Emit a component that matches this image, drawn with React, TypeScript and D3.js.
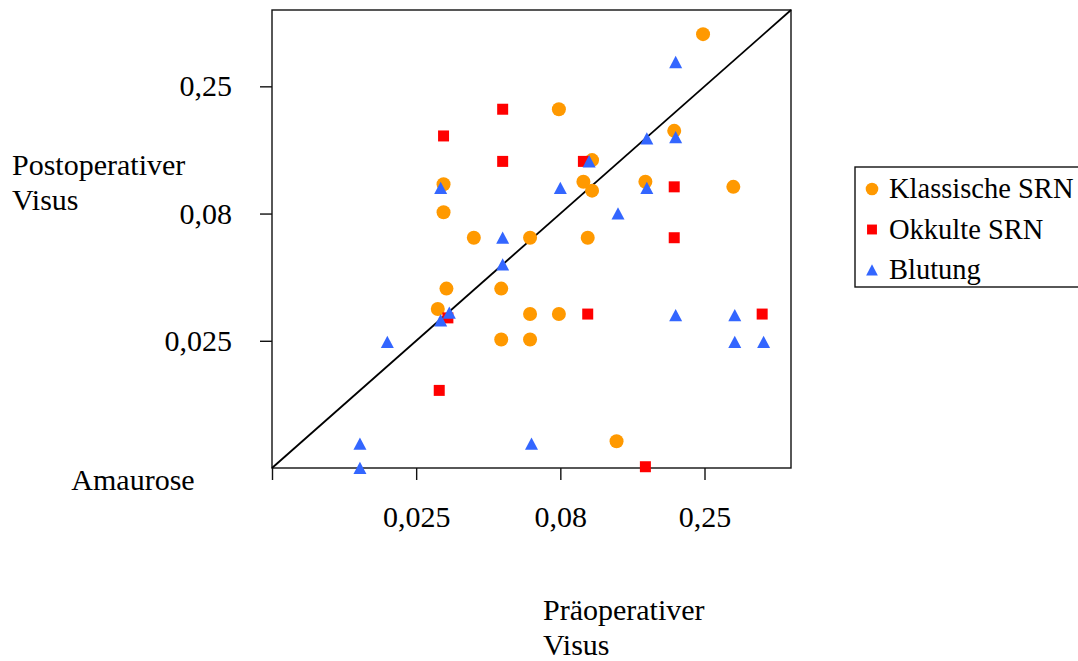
import * as d3 from 'd3'
import { useEffect, useRef } from 'react'

// scale positions: 0 = Amaurose, 1 = 0,025, 2 = 0,08, 3 = 0,25
const klassische = [
  [2.99, 3.41], [1.99, 2.82], [2.79, 2.65], [2.22, 2.42], [1.19, 2.23],
  [2.16, 2.25], [2.59, 2.25], [3.20, 2.21], [2.22, 2.18], [1.19, 2.01],
  [1.40, 1.81], [1.79, 1.81], [2.19, 1.81], [1.21, 1.41], [1.59, 1.41],
  [1.15, 1.25], [1.79, 1.21], [1.99, 1.21], [1.59, 1.01], [1.79, 1.01],
  [2.39, 0.21],
]
const okkulte = [
  [1.60, 2.82], [1.19, 2.61], [1.60, 2.41], [2.16, 2.41], [2.79, 2.21],
  [2.79, 1.81], [1.22, 1.18], [2.19, 1.21], [3.40, 1.21], [1.16, 0.61],
  [2.59, 0.01],
]
const blutung = [
  [2.80, 3.19], [2.80, 2.60], [2.60, 2.59], [2.20, 2.41], [1.17, 2.20],
  [2.00, 2.20], [2.60, 2.20], [2.40, 2.00], [1.60, 1.81], [1.60, 1.60],
  [1.23, 1.22], [1.17, 1.16], [0.80, 0.99], [2.80, 1.20], [3.21, 1.20],
  [3.21, 0.99], [3.41, 0.99], [0.61, 0.19], [1.80, 0.19], [0.61, 0.00],
]

const seriesNames = ['Klassische SRN', 'Okkulte SRN', 'Blutung']
const seriesColors = ['#ff9900', '#ff0000', '#3366ff']
const seriesShapes = ['circle', 'square', 'triangle']

const xTickValues = [0, 1, 2, 3]
const xTickLabels = ['', '0,025', '0,08', '0,25']
const yTickValues = [1, 2, 3]
const yTickLabels = ['0,025', '0,08', '0,25']

const FONT = "'Liberation Serif', 'DejaVu Serif', serif"

const markerPath = (shape) => {
  if (shape === 'circle') return 'M7,0A7,7 0 1,1 -7,0A7,7 0 1,1 7,0Z'
  if (shape === 'square') return 'M-5.5,-5.5H5.5V5.5H-5.5Z'
  return 'M0,-6.3L6.5,6L-6.5,6Z'
}

export default function App() {
  const svgRef = useRef()

  useEffect(() => {
    const w = 1078
    const h = 661
    const svg = d3.select(svgRef.current)
    svg.selectAll('*').remove()
    svg.attr('width', w).attr('height', h).style('background', '#fff')
       .attr('font-family', FONT)

    const xScale = d3.scaleLinear().domain([0, 3.6]).range([272, 791])
    const yScale = d3.scaleLinear().domain([0, 3.6]).range([468, 10])

    // plot frame
    svg.append('rect')
       .attr('x', 272).attr('y', 10)
       .attr('width', 519).attr('height', 458)
       .attr('fill', 'none')
       .attr('stroke', '#111')
       .attr('stroke-width', 1.4)

    const xAxis = d3.axisBottom(xScale)
                    .tickValues(xTickValues)
                    .tickFormat((d, i) => xTickLabels[i])
                    .tickSize(12)
                    .tickPadding(26)
    const gx = svg.append('g')
       .attr('transform', `translate(0, ${yScale(0)})`)
       .call(xAxis)
    gx.select('.domain').remove()

    const yAxis = d3.axisLeft(yScale)
                    .tickValues(yTickValues)
                    .tickFormat((d, i) => yTickLabels[i])
                    .tickSize(12)
                    .tickPadding(28)
    const gy = svg.append('g')
       .attr('transform', `translate(${xScale(0)}, 0)`)
       .call(yAxis)
    gy.select('.domain').remove()

    gx.attr('font-family', FONT).attr('font-size', 30)
    gy.attr('font-family', FONT).attr('font-size', 30)
    svg.selectAll('.tick line').attr('stroke', '#111').attr('stroke-width', 1.4)
    svg.selectAll('.tick text').attr('fill', '#000')

    // diagonal
    svg.append('line')
       .attr('x1', xScale(0)).attr('y1', yScale(0))
       .attr('x2', xScale(3.6)).attr('y2', yScale(3.6))
       .attr('stroke', '#000')
       .attr('stroke-width', 1.8)

    const all = [klassische, okkulte, blutung]
    all.forEach((data, k) => {
      svg.append('g')
         .selectAll('path')
         .data(data)
         .join('path')
         .attr('transform', d => `translate(${xScale(d[0])}, ${yScale(d[1])})`)
         .attr('d', markerPath(seriesShapes[k]))
         .attr('fill', seriesColors[k])
    })

    const text = (x, y, str, size, anchor = 'start') =>
      svg.append('text')
         .attr('x', x).attr('y', y)
         .attr('text-anchor', anchor)
         .attr('font-family', FONT)
         .attr('font-size', size)
         .text(str)

    text(133, 490, 'Amaurose', 30, 'middle')
    text(12, 175, 'Postoperativer', 30)
    text(12, 210, 'Visus', 30)
    text(543, 620, 'Präoperativer', 30)
    text(543, 655, 'Visus', 30)

    // legend
    const lg = svg.append('g').attr('transform', 'translate(855, 167)')
    lg.append('rect')
      .attr('width', 240).attr('height', 120)
      .attr('fill', '#fff')
      .attr('stroke', '#111')
      .attr('stroke-width', 1.4)
    seriesNames.forEach((name, i) => {
      lg.append('path')
        .attr('transform', `translate(17, ${22 + i * 40.5}) scale(0.9)`)
        .attr('d', markerPath(seriesShapes[i]))
        .attr('fill', seriesColors[i])
      lg.append('text')
        .attr('x', 34).attr('y', 31 + i * 40.5)
        .attr('font-family', FONT)
        .attr('font-size', 28.5)
        .text(name)
    })
  }, [])

  return (
    <svg ref={svgRef} style={{ position: 'absolute', left: 0, top: 0 }} />
  )
}
